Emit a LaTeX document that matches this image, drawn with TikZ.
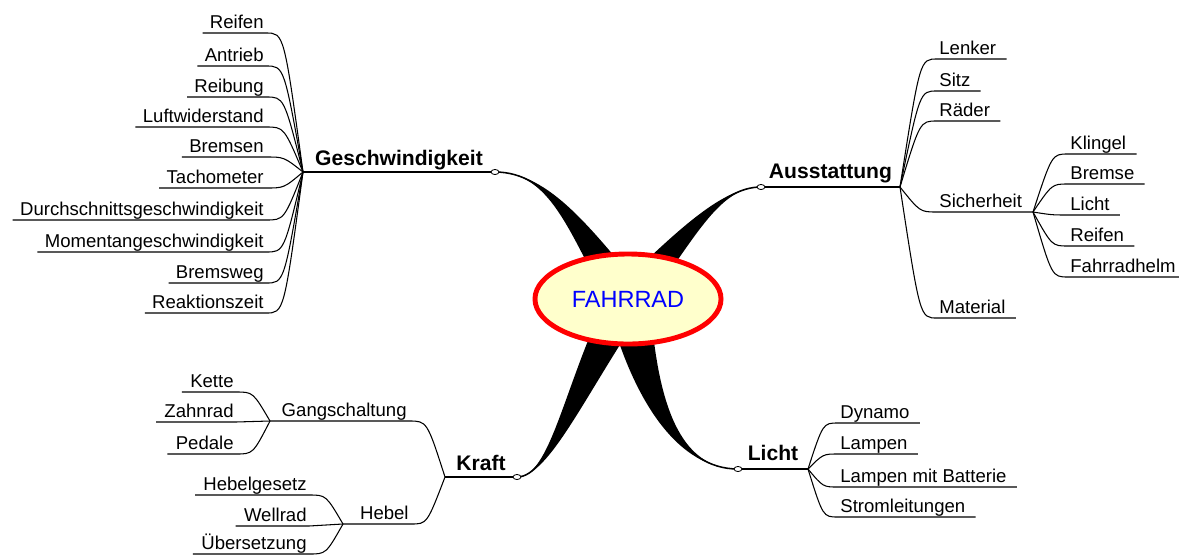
\documentclass[tikz,border=0pt]{standalone}
\usepackage{fontspec}
\setmainfont{Liberation Sans}
\usetikzlibrary{positioning,calc,shapes.geometric,backgrounds}
\definecolor{mapred}{RGB}{255,0,0}
\definecolor{mapyellow}{RGB}{255,255,204}
\definecolor{mapblue}{RGB}{0,0,255}

\begin{document}
\begin{tikzpicture}[x=0.025cm,y=-0.025cm,
leaf/.style={font=\fontsize{13.2}{15}\selectfont,inner xsep=1.5pt,inner ysep=2.8pt,text depth=0pt},
topic/.style={font=\fontsize{15}{18}\selectfont\bfseries,inner sep=0pt,anchor=base},
knob/.style={ellipse,draw,fill=white,line width=0.6pt,minimum width=5.6pt,minimum height=3.6pt,inner sep=0pt},
twig/.style={line width=0.75pt},stem/.style={line width=1.1pt}]
\useasboundingbox (0,0) rectangle (1179,554);
\clip (0,0) rectangle (1179,554);

% centre
\node[ellipse,draw=mapred,line width=3.5pt,fill=mapyellow,minimum width=4.65cm,minimum height=2.25cm,
  font=\fontsize{16.7}{20}\selectfont,text=mapblue] (fahrrad) at (628,299) {FAHRRAD};

% hubs and knobs of the four topics
\coordinate (gh) at (303,172);
\coordinate (ah) at (900,187);
\coordinate (kh) at (445,477);
\coordinate (lh) at (808,469);
\node[knob] (gk) at (495,172) {};
\node[knob] (ak) at (761,187) {};
\node[knob] (kk) at (517,477) {};
\node[knob] (lk) at (738,469) {};

% tapered branches
\begin{scope}[on background layer]
\foreach \k/\ax/\ay/\bx/\by in {gk/550/172/580/230,ak/720/187/685/235,kk/550/477/575/390,lk/680/469/645/405}{
  \fill (\k.center) .. controls (\ax,\ay) and ($(\bx,\by)+(-12,0)$) .. ($(fahrrad.center)+(-22,0)$)
    -- ($(fahrrad.center)+(22,0)$) .. controls ($(\bx,\by)+(12,0)$) and (\ax,\ay) .. (\k.center);
  \draw[stem] (\k.center) .. controls (\ax,\ay) and (\bx,\by) .. (fahrrad.center);
}
\end{scope}

% topics
\node[topic] (geschw) at ($(gh)!0.5!(gk)+(0,-7)$) {Geschwindigkeit};
\node[topic] (ausst) at ($(ah)!0.5!(ak)+(0,-9)$) {Ausstattung};
\node[topic] (kraft) at ($(kh)!0.5!(kk)+(0,-7)$) {Kraft};
\node[topic] (licht) at ($(lh)!0.5!(lk)+(0,-9)$) {Licht};
\draw[stem] (gh) -- (gk);
\draw[stem] (ah) -- (ak);
\draw[stem] (kh) -- (kk);
\draw[stem] (lh) -- (lk);

% Geschwindigkeit
\foreach \n/\y/\s in {g1/33/Reifen,g2/66/Antrieb,g3/97/Reibung,g4/127/Luftwiderstand,g5/157/Bremsen,
  g6/188/Tachometer,g7/220/Durchschnittsgeschwindigkeit,g8/252/Momentangeschwindigkeit,g9/283/Bremsweg,g10/313/Reaktionszeit}{
  \node[leaf,anchor=south east] (\n) at (266,\y) {\s};
  \draw[twig] (gh) .. controls (284,\y) .. (\n.south east) -- ($(\n.south west)+(-5,0)$);
}

% Ausstattung
\foreach \n/\y/\s in {a1/59/Lenker,a2/91/Sitz,a3/121/Räder,a4/318/Material}{
  \node[leaf,anchor=south west] (\n) at (937,\y) {\s};
  \draw[twig] (ah) .. controls (920,\y) .. (\n.south west) -- ($(\n.south east)+(8,0)$);
}
\node[leaf,anchor=south west] (sich) at (937,212) {Sicherheit};
\coordinate (sh) at (1033,212);
\draw[twig] (ah) .. controls (920,212) .. (sich.south west) -- (sh);
\foreach \n/\y/\s in {s1/154/Klingel,s2/184/Bremse,s3/215/Licht,s4/246/Reifen,s5/277/Fahrradhelm}{
  \node[leaf,anchor=south west] (\n) at (1068,\y) {\s};
  \draw[twig] (sh) .. controls (1052,\y) .. (\n.south west) -- ($(\n.south east)+(8,0)$);
}

% Kraft
\node[leaf,anchor=south east] (gang) at (409,421) {Gangschaltung};
\coordinate (gsh) at (270,421);
\draw[twig] (kh) .. controls (427,421) .. (gang.south east) -- (gsh);
\foreach \n/\y/\s in {k1/392/Kette,k2/422/Zahnrad,k3/454/Pedale}{
  \node[leaf,anchor=south east] (\n) at (236,\y) {\s};
  \draw[twig] (gsh) .. controls (253,\y) .. (\n.south east) -- ($(\n.south west)+(-6,0)$);
}
\node[leaf,anchor=south east] (hebel) at (411,524) {Hebel};
\coordinate (hh) at (343,524);
\draw[twig] (kh) .. controls (427,524) .. (hebel.south east) -- (hh);
\foreach \n/\y/\s in {h1/495/Hebelgesetz,h2/526/Wellrad,h3/554/Übersetzung}{
  \node[leaf,anchor=south east] (\n) at (309,\y) {\s};
  \draw[twig] (hh) .. controls (326,\y) .. (\n.south east) -- ($(\n.south west)+(-6,0)$);
}

% Licht
\foreach \n/\y/\s in {l1/423/Dynamo,l2/454/Lampen,l3/487/Lampen mit Batterie,l4/517/Stromleitungen}{
  \node[leaf,anchor=south west] (\n) at (838,\y) {\s};
  \draw[twig] (lh) .. controls (823,\y) .. (\n.south west) -- ($(\n.south east)+(8,0)$);
}
\end{tikzpicture}
\end{document}
